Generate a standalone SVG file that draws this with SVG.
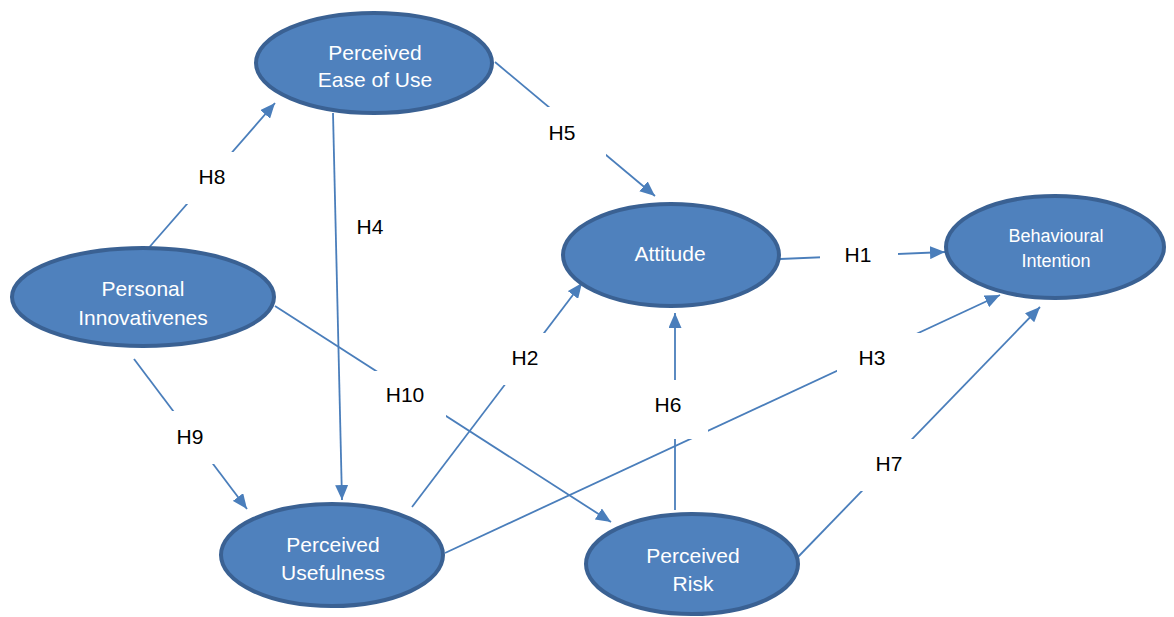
<svg xmlns="http://www.w3.org/2000/svg" width="1174" height="617" viewBox="0 0 1174 617">
<style>
.node ellipse{fill:#4f81bd;stroke:#3a6193;stroke-width:4}
.node text{fill:#ffffff;font-family:"Liberation Sans",Arial,sans-serif;font-size:21px;text-anchor:middle}
.node text.small{font-size:18px}
.conn line{stroke:#4a7ebb;stroke-width:1.8;fill:none}
.conn line.arr{marker-end:url(#ah)}
.lbl rect{fill:#ffffff;stroke:none}
.lbl text{fill:#000000;font-family:"Liberation Sans",Arial,sans-serif;font-size:21px;text-anchor:middle}
</style>
<defs>
<marker id="ah" markerUnits="userSpaceOnUse" markerWidth="16" markerHeight="13" refX="15" refY="6.5" orient="auto">
<path d="M0,0 L15,6.5 L0,13 z" fill="#4a7ebb"/>
</marker>
</defs>
<rect x="0" y="0" width="1174" height="617" fill="#ffffff"/>
<g id="connectors" class="conn">
<line class="arr" x1="146" y1="251" x2="275" y2="103"/>
<line class="arr" x1="333" y1="113" x2="342" y2="500"/>
<line class="arr" x1="495" y1="62" x2="655" y2="196"/>
<line class="arr" x1="780" y1="259" x2="945" y2="252"/>
<line class="arr" x1="412" y1="507" x2="582" y2="283"/>
<line class="arr" x1="275" y1="306" x2="611" y2="522"/>
<line class="arr" x1="134" y1="359" x2="247" y2="509"/>
<line class="arr" x1="445" y1="553" x2="1000" y2="295"/>
<line class="arr" x1="675" y1="510" x2="675" y2="313"/>
<line class="arr" x1="797" y1="558" x2="1040" y2="307"/>
</g>
<g id="labels">
<g id="lbl-H8" class="lbl"><rect x="175" y="152" width="75" height="52"/><text x="212" y="184">H8</text></g>
<g id="lbl-H4" class="lbl"><text x="370" y="234">H4</text></g>
<g id="lbl-H5" class="lbl"><rect x="522" y="107" width="84" height="50"/><text x="562" y="140">H5</text></g>
<g id="lbl-H1" class="lbl"><rect x="820" y="228" width="78" height="52"/><text x="858" y="262">H1</text></g>
<g id="lbl-H2" class="lbl"><rect x="490" y="333" width="70" height="52"/><text x="525" y="365">H2</text></g>
<g id="lbl-H10" class="lbl"><rect x="368" y="371" width="78" height="49"/><text x="405" y="402">H10</text></g>
<g id="lbl-H9" class="lbl"><rect x="155" y="411" width="70" height="53"/><text x="190" y="444">H9</text></g>
<g id="lbl-H3" class="lbl"><rect x="837" y="333" width="88" height="52"/><text x="872" y="365">H3</text></g>
<g id="lbl-H6" class="lbl"><rect x="640" y="380" width="68" height="59"/><text x="668" y="412">H6</text></g>
<g id="lbl-H7" class="lbl"><rect x="850" y="439" width="75" height="52"/><text x="889" y="471">H7</text></g>
</g>
<g id="node-peou" class="node"><ellipse cx="374" cy="63" rx="118" ry="50"/><text x="375" y="60">Perceived</text><text x="375" y="87">Ease of Use</text></g>
<g id="node-pi" class="node"><ellipse cx="143" cy="297" rx="131" ry="49"/><text x="143" y="296">Personal</text><text x="143" y="325">Innovativenes</text></g>
<g id="node-att" class="node"><ellipse cx="671" cy="255" rx="108" ry="51"/><text x="670" y="261">Attitude</text></g>
<g id="node-bi" class="node"><ellipse cx="1055" cy="247" rx="109" ry="51"/><text class="small" x="1056" y="242">Behavioural</text><text class="small" x="1056" y="267">Intention</text></g>
<g id="node-pu" class="node"><ellipse cx="332" cy="555" rx="111" ry="51"/><text x="333" y="552">Perceived</text><text x="333" y="580">Usefulness</text></g>
<g id="node-pr" class="node"><ellipse cx="692" cy="564" rx="106" ry="50"/><text x="693" y="563">Perceived</text><text x="693" y="591">Risk</text></g>
</svg>
